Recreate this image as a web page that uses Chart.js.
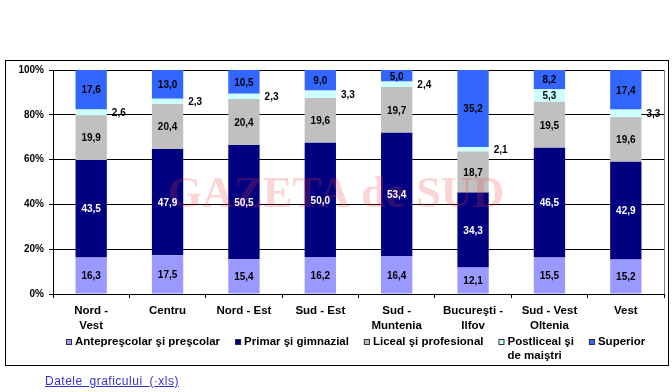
<!DOCTYPE html>
<html>
<head>
<meta charset="utf-8">
<script src="https://cdn.jsdelivr.net/npm/chart.js@4"></script>
<style>
  body { margin: 0; background: #fff; }
  #wrap { position: relative; width: 672px; height: 392px; }
  #link { position: absolute; left: 45px; top: 374px; font: 12px "Liberation Sans", Arial, sans-serif; color: #3333cc; text-decoration: underline; word-spacing: 3px; letter-spacing: 0.5px; }
</style>
</head>
<body>
<div id="wrap">
  <canvas id="myChart" width="672" height="392"></canvas>
  <span id="link">Datele graficului (·xls)</span>
</div>
<script>
const regions = [['Nord -', 'Vest'], 'Centru', 'Nord - Est', 'Sud - Est', ['Sud -', 'Muntenia'], ['Bucureşti -', 'Ilfov'], ['Sud - Vest', 'Oltenia'], 'Vest'];
const anteprescolar = [16.3, 17.5, 15.4, 16.2, 16.4, 12.1, 15.5, 15.2];
const primar = [43.5, 47.9, 50.5, 50.0, 53.4, 34.3, 46.5, 42.9];
const liceal = [19.9, 20.4, 20.4, 19.6, 19.7, 18.7, 19.5, 19.6];
const postliceal = [2.6, 2.3, 2.3, 3.3, 2.4, 2.1, 5.3, 3.3];
const superior = [17.6, 13.0, 10.5, 9.0, 5.0, 35.2, 8.2, 17.4];
const yTicks = [0, 20, 40, 60, 80, 100];

const FONT = '"Liberation Sans", Arial, sans-serif';
const raw = [anteprescolar, primar, liceal, postliceal, superior];
const names = ['Antepreşcolar şi preşcolar', 'Primar şi gimnazial', 'Liceal şi profesional', ['Postliceal şi', 'de maiştri'], 'Superior'];
const colors = ['#9999ff', '#000080', '#c0c0c0', '#ccffff', '#3366ff'];
const labelColors = ['#000', '#fff', '#000', '#000', '#000'];

// 100% stacked, like excel
const totals = regions.map((r, i) => raw.reduce((s, arr) => s + arr[i], 0));

const datasets = raw.map((arr, k) => ({
    label: Array.isArray(names[k]) ? names[k].join(' ') : names[k],
    data: arr.map((v, i) => v / totals[i] * 100),
    backgroundColor: colors[k],
    borderWidth: 0,
    barPercentage: 0.41,
    categoryPercentage: 1
}));

const extras = {
    id: 'extras',
    beforeDraw(chart) {
        const c = chart.ctx;
        c.save();
        c.strokeStyle = '#000';
        c.lineWidth = 1;
        c.strokeRect(5.5, 60.5, 663, 305);
        c.restore();
    },
    afterDatasetsDraw(chart) {
        const c = chart.ctx;
        const a = chart.chartArea;
        c.save();
        // watermark
        c.font = 'bold 44px "Liberation Serif", "Times New Roman", serif';
        c.fillStyle = 'rgba(235,60,60,0.22)';
        c.textAlign = 'center';
        c.textBaseline = 'middle';
        c.fillText('GAZETA de SUD', 336, 196);
        // grey border right
        c.strokeStyle = '#808080';
        c.beginPath();
        c.moveTo(Math.round(a.right) + 0.5, a.top);
        c.lineTo(Math.round(a.right) + 0.5, a.bottom);
        c.stroke();
        // value labels
        c.font = 'bold 10px ' + FONT;
        chart.data.datasets.forEach((ds, k) => {
            chart.getDatasetMeta(k).data.forEach((el, i) => {
                const p = el.getProps(['x', 'y', 'base', 'width'], true);
                const h = p.base - p.y;
                const txt = raw[k][i].toFixed(1).replace('.', ',');
                let x = p.x, y = (p.y + p.base) / 2;
                c.fillStyle = labelColors[k];
                if (h < 10) {
                    c.textAlign = 'left';
                    x = p.x + p.width / 2 + 5;
                    c.fillStyle = '#000';
                } else {
                    c.textAlign = 'center';
                }
                c.fillText(txt, x, y + 1);
            });
        });
        c.restore();
    },
    afterDraw(chart) {
        const c = chart.ctx;
        c.save();
        c.font = 'bold 11.5px ' + FONT;
        c.textBaseline = 'middle';
        c.textAlign = 'left';
        let x = 66;
        const y = 342;
        names.forEach((n, k) => {
            c.fillStyle = colors[k];
            c.fillRect(x, y - 3, 6, 6);
            c.strokeStyle = '#333';
            c.lineWidth = 1;
            c.strokeRect(x + 0.5, y - 3 + 0.5, 5, 5);
            c.fillStyle = '#000';
            const lines = Array.isArray(n) ? n : [n];
            let w = 0;
            lines.forEach((t, j) => {
                c.fillText(t, x + 9, y + j * 14);
                w = Math.max(w, c.measureText(t).width);
            });
            x += 9 + w + 15;
        });
        c.restore();
    }
};

const ctx = document.getElementById('myChart');

new Chart(ctx, {
    type: 'bar',
    data: { labels: regions, datasets: datasets },
    plugins: [extras],
    options: {
        responsive: false,
        animation: false,
        layout: { padding: { top: 70, right: 8, left: 0, bottom: 0 } },
        plugins: {
            legend: { display: false },
            tooltip: { enabled: false }
        },
        scales: {
            x: {
                stacked: true,
                grid: { offset: true, drawOnChartArea: false, tickLength: 4, color: '#000' },
                border: { color: '#000' },
                ticks: {
                    color: '#000',
                    font: { family: FONT, size: 11.5, weight: 'bold', lineHeight: 1.3 },
                    maxRotation: 0,
                    autoSkip: false,
                    padding: 5
                },
                afterFit(s) { s.height = 98; }
            },
            y: {
                stacked: true,
                min: 0,
                max: 100,
                afterBuildTicks(s) { s.ticks = yTicks.map(v => ({ value: v })); },
                grid: { color: '#000', tickLength: 4 },
                border: { color: '#000' },
                ticks: {
                    color: '#000',
                    font: { family: FONT, size: 10, weight: 'bold' },
                    padding: 5,
                    callback: v => v + '%'
                },
                afterFit(s) { s.width = 53; }
            }
        }
    }
});
</script>
</body>
</html>
